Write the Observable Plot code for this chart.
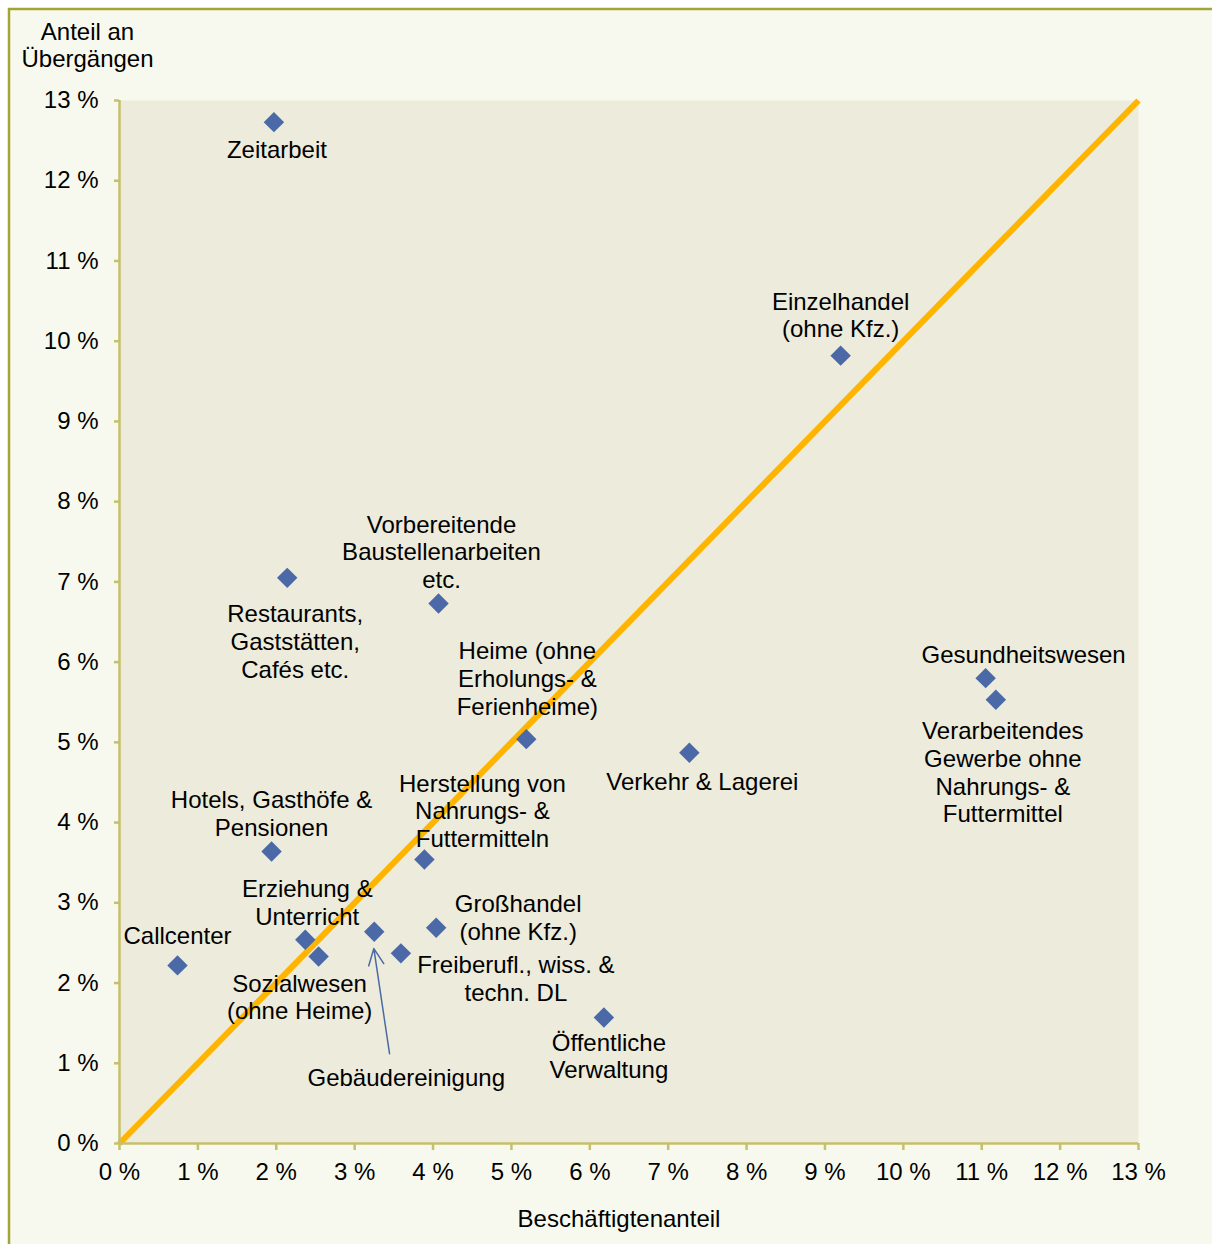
<!DOCTYPE html>
<html><head><meta charset="utf-8">
<script src="https://cdn.jsdelivr.net/npm/d3@7"></script>
<script src="https://cdn.jsdelivr.net/npm/@observablehq/plot@0.6"></script>
<style>body{margin:0;background:#fff;} svg{display:block;}</style>
</head><body><div id="chart"></div>
<script>
// Branchen (Wirtschaftszweige)
const branches = [
  "Zeitarbeit",
  "Einzelhandel\n(ohne Kfz.)",
  "Vorbereitende\nBaustellenarbeiten\netc.",
  "Restaurants,\nGaststätten,\nCafés etc.",
  "Heime (ohne\nErholungs- &\nFerienheime)",
  "Gesundheitswesen",
  "Verarbeitendes\nGewerbe ohne\nNahrungs- &\nFuttermittel",
  "Verkehr & Lagerei",
  "Hotels, Gasthöfe &\nPensionen",
  "Herstellung von\nNahrungs- &\nFuttermitteln",
  "Erziehung &\nUnterricht",
  "Callcenter",
  "Sozialwesen\n(ohne Heime)",
  "Gebäudereinigung",
  "Großhandel\n(ohne Kfz.)",
  "Freiberufl., wiss. &\ntechn. DL",
  "Öffentliche\nVerwaltung"
];
// Beschäftigtenanteil in %
const employmentShare = [1.97, 9.20, 4.07, 2.14, 5.19, 11.05, 11.18, 7.27, 1.94, 3.89, 2.37, 0.74, 2.54, 3.25, 4.04, 3.59, 6.18];
// Anteil an Übergängen in %
const transitionShare = [12.73, 9.82, 6.73, 7.05, 5.04, 5.80, 5.53, 4.87, 3.64, 3.54, 2.54, 2.22, 2.33, 2.64, 2.69, 2.37, 1.57];

// label placement relative to each point (px)
const labelDx = [3, 0, 3, 8, 1, 38, 7, 13, 0, 58, 2, 0, -19, 32, 82, 115, 5];
const labelDy = [27, -41, -52, 63, -61, -24, 72, 28, -38, -49, -38, -30, 40, 145, -11, 25, 38];

// Gebäudereinigung callout arrow (data units)
const arrowFrom = {x: 3.445, y: 1.12};
const arrowTo = {x: 3.245, y: 2.43};

const axisTicks = d3.range(0, 14);
const tickLabel = d => d + " %";
const diagonal = [0, 13];

const data = branches.map((b, i) => ({name: b, x: employmentShare[i], y: transitionShare[i], i}));

const axisColor = "#C6BF6B";
const textStyle = {fontFamily: "Liberation Sans, Arial, sans-serif", fontSize: 24, lineHeight: 1.16, fill: "#000"};

const labelMarks = data.map(d => Plot.text([d], {
  x: "x", y: "y", text: "name",
  dx: labelDx[d.i], dy: labelDy[d.i],
  textAnchor: "middle", lineAnchor: "middle",
  ...textStyle
}));

const chart = Plot.plot({
  width: 1212,
  height: 1244,
  marginLeft: 119,
  marginTop: 100,
  marginRight: 74,
  marginBottom: 101,
  style: {fontFamily: "Liberation Sans, Arial, sans-serif", fontSize: "24px", background: "transparent", color: "#000"},
  x: {domain: [0, 13]},
  y: {domain: [0, 13]},
  marks: [
    Plot.frame({fill: "#EDEBDB", stroke: "none"}),
    Plot.line(diagonal.map(v => ({x: v, y: v})), {x: "x", y: "y", stroke: "#FFB400", strokeWidth: 6, strokeLinecap: "butt"}),
    Plot.ruleX([0], {stroke: axisColor, strokeWidth: 2.5}),
    Plot.ruleY([0], {stroke: axisColor, strokeWidth: 2.5}),
    Plot.axisY({ticks: axisTicks, tickFormat: tickLabel, tickSize: 5, tickPadding: 16, stroke: axisColor, strokeWidth: 2.5, fill: "#000", fontSize: 24, label: null}),
    Plot.axisX({ticks: axisTicks, tickFormat: tickLabel, tickSize: 7, tickPadding: 12, stroke: axisColor, strokeWidth: 2.5, fill: "#000", fontSize: 24, label: null}),
    Plot.arrow([{x1: arrowFrom.x, y1: arrowFrom.y, x2: arrowTo.x, y2: arrowTo.y}], {x1: "x1", y1: "y1", x2: "x2", y2: "y2", stroke: "#4A6AA5", strokeWidth: 1.5, headLength: 18, headAngle: 50}),
    Plot.dot(data, {x: "x", y: "y", symbol: "diamond2", r: 9.2, fill: "#4A69A6", stroke: "none"}),
    ...labelMarks,
    Plot.text(["Anteil an\nÜbergängen"], {frameAnchor: "top-left", dx: -32, dy: -56, textAnchor: "middle", lineAnchor: "middle", ...textStyle}),
    Plot.text(["Beschäftigtenanteil"], {frameAnchor: "bottom", dx: -10, dy: 75, textAnchor: "middle", lineAnchor: "middle", ...textStyle})
  ]
});

const svg = d3.select(chart);
svg.insert("rect", ":first-child")
  .attr("x", 9).attr("y", 9)
  .attr("width", 1260).attr("height", 1300)
  .attr("fill", "#F8F9EE")
  .attr("stroke", "#A3A436")
  .attr("stroke-width", 2.5);

document.getElementById("chart").appendChild(chart);
</script>
</body></html>
